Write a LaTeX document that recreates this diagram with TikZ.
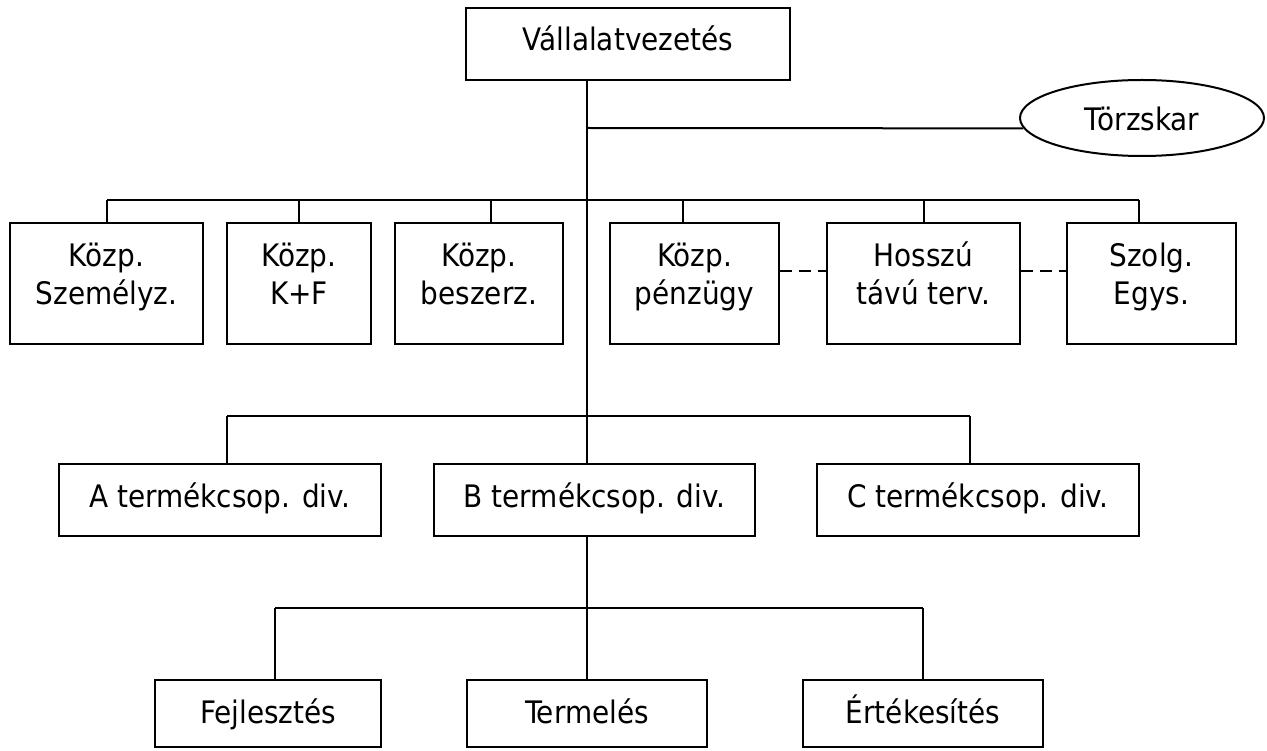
\documentclass[tikz,border=0pt]{standalone}
\usepackage{fontspec}
\setmainfont{DejaVu Sans Condensed}
\usetikzlibrary{shapes.geometric}
\begin{document}
\begin{tikzpicture}[x=1pt,y=-1pt,
  unit/.style={draw, line width=2pt, inner sep=0pt, fill=white},
  lbl/.style={inner sep=0pt, anchor=base, align=center,
    font=\fontsize{31}{38}\selectfont},
  link/.style={draw, line width=2pt},
  loose/.style={draw, line width=2pt, dash pattern=on 12pt off 7pt}]
\useasboundingbox (0,0) rectangle (1267,751);

% trunk and junction points
\coordinate (trunk) at (587,0);
\coordinate (sj) at (587,128);
\coordinate (dl) at (0,271);

% top management and staff
\node[unit, minimum width=324pt, minimum height=72pt] (top) at (628,44) {};
\node[lbl] (topt) at (628,51) {Vállalatvezetés};
\node[draw, ellipse, line width=2pt, inner sep=0pt,
      minimum width=244pt, minimum height=76pt] (ell) at (1142,118) {};
\node[lbl] (ellt) at (1142,131) {Törzskar};

% central functions (two-line labels are anchored at the last baseline)
\foreach \n/\cx/\w in {p1/106.5/193, p2/299/144, p3/479/168,
                        p4/694.5/169, p5/923.5/193, p6/1151.5/169}
  \node[unit, minimum width=\w pt, minimum height=121pt] (\n) at (\cx,283.5) {};
\node[lbl] (p1t) at (106.5,305) {Közp.\\Személyz.};
\node[lbl] (p2t) at (299,305) {Közp.\\K+F};
\node[lbl] (p3t) at (479,305) {Közp.\\beszerz.};
\node[lbl] (p4t) at (694.5,305) {Közp.\\pénzügy};
\node[lbl] (p5t) at (923.5,305) {Hosszú\\távú terv.};
\node[lbl] (p6t) at (1151.5,305) {Szolg.\\Egys.};

% product group divisions
\node[unit, minimum width=322pt, minimum height=72pt] (dA) at (220,500) {};
\node[unit, minimum width=321pt, minimum height=72pt] (dB) at (594.5,500) {};
\node[unit, minimum width=322pt, minimum height=72pt] (dC) at (978,500) {};
\node[lbl] (dAt) at (220,507) {A termékcsop. div.};
\node[lbl] (dBt) at (594.5,507) {B termékcsop. div.};
\node[lbl] (dCt) at (978,507) {C termékcsop. div.};

% functions of division B
\node[unit, minimum width=226pt, minimum height=67pt] (fF) at (268,713.5) {};
\node[unit, minimum width=240pt, minimum height=67pt] (fT) at (587,713.5) {};
\node[unit, minimum width=240pt, minimum height=67pt] (fE) at (923,713.5) {};
\node[lbl] (fFt) at (268,723) {Fejlesztés};
\node[lbl] (fTt) at (587,723) {Termelés};
\node[lbl] (fEt) at (923,723) {Értékesítés};

% main trunk and staff line
\draw[link] (trunk |- top.south) -- (trunk |- dB.north);
\draw[link] (sj) -- (ell.185);

% bus to the central functions
\coordinate (s1) at (107,200);
\coordinate (s2) at (299,200);
\coordinate (s3) at (491,200);
\coordinate (s4) at (683,200);
\coordinate (s5) at (924,200);
\coordinate (s6) at (1139,200);
\draw[link] (s1) -- (s6);
\foreach \s/\n in {s1/p1, s2/p2, s3/p3, s4/p4, s5/p5, s6/p6}
  \draw[link] (\s) -- (\s |- \n.north);

% dashed ties between the staff units
\draw[loose] (p4.east |- dl) -- (p5.west |- dl);
\draw[loose] (p5.east |- dl) -- (p6.west |- dl);

% bus to the divisions
\coordinate (ra) at (227,416);
\coordinate (rc) at (970,416);
\draw[link] (ra) -- (rc);
\draw[link] (ra) -- (ra |- dA.north);
\draw[link] (rc) -- (rc |- dC.north);

% bus to the functions of division B
\coordinate (fa) at (275,608);
\coordinate (fe) at (923,608);
\draw[link] (trunk |- dB.south) -- (trunk |- fT.north);
\draw[link] (fa) -- (fe);
\draw[link] (fa) -- (fa |- fF.north);
\draw[link] (fe) -- (fe |- fE.north);
\end{tikzpicture}
\end{document}
